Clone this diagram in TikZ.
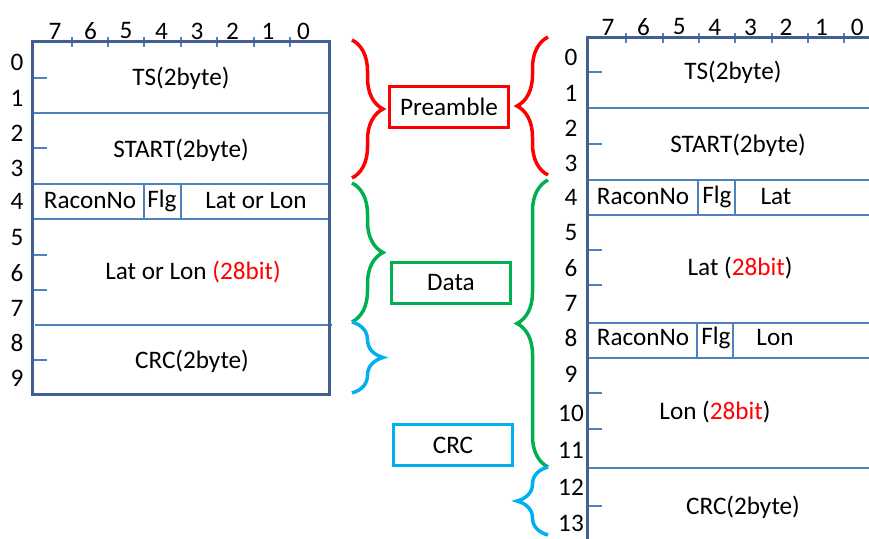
\documentclass[tikz,border=0pt]{standalone}
\usepackage{fontspec}
\setmainfont{Carlito}
\usetikzlibrary{decorations.pathreplacing}
\definecolor{frameblue}{HTML}{41608F}
\definecolor{lineblue}{HTML}{4F81BD}
\definecolor{bracered}{HTML}{FF0000}
\definecolor{bracegreen}{HTML}{00B050}
\definecolor{bracecyan}{HTML}{00B0F0}
\begin{document}
\begin{tikzpicture}[x=0.5pt,y=-0.5pt,
  every node/.style={font=\fontsize{12.6}{14}\selectfont, inner sep=0pt},
  frame/.style={draw=frameblue, line width=1.5pt},
  cellline/.style={draw=lineblue, line width=0.65pt},
  curly/.style={decorate, decoration={brace, amplitude=15.5pt}, line width=1.75pt},
  tag/.style={draw, line width=1.5pt, minimum width=59.5pt, minimum height=20.5pt}]
  \useasboundingbox (0,0) rectangle (869,539);

  % left frame
  \foreach \y in {113,184,219}
    \draw[cellline] (32,\y) -- (329,\y);
  \draw[cellline] (35,325) -- (332,325);
  \draw[cellline] (144,184) -- (144,219);
  \draw[cellline] (181,184) -- (181,219);
  \foreach \y in {78,148,255,290,360}
    \draw[cellline] (32,\y) -- ++(15,0);
  \foreach \x in {72,108,144,181,217,254,290}
    \draw[cellline] (\x,37) -- (\x,47);
  \draw[frame] (32,42) rectangle (329,395);
  \foreach \b [count=\k] in {7,6,5,4,3,2,1,0}
    \node (ltop\b) at ({19.5+35.5*\k},31) {\b};
  \foreach \r/\y in {0/62,1/98,2/133,3/168,4/201,5/238,6/273,7/308,8/343,9/378}
    \node (lrow\r) at (17,\y) {\r};
  \node (lts) at (181,78) {TS(2byte)};
  \node (lstart) at (181,150) {START(2byte)};
  \node (lracon) at (90,201) {RaconNo};
  \node (lflg) at (162,201) {Flg};
  \node (llatlon) at (256,201) {Lat or Lon};
  \node (lbits) at (193,272) {Lat or Lon \textcolor{bracered}{(28bit)}};
  \node (lcrc) at (192,361) {CRC(2byte)};

  % right frame
  \foreach \y in {108,180,215,323,358,468}
    \draw[cellline] (587,\y) -- (869,\y);
  \draw[cellline] (698,180) -- (698,215);
  \draw[cellline] (735,180) -- (735,215);
  \draw[cellline] (697,323) -- (697,358);
  \draw[cellline] (733,323) -- (733,358);
  \foreach \y in {72,144,250,285,393,429,506}
    \draw[cellline] (587,\y) -- ++(15,0);
  \foreach \x in {626,663,699,735,772,808,844}
    \draw[cellline] (\x,33) -- (\x,43);
  \draw[frame] (869,38) -- (587,38) -- (587,539);
  \foreach \b [count=\k] in {7,6,5,4,3,2,1,0}
    \node (rtop\b) at ({572.4+35.6*\k},27) {\b};
  \foreach \r/\y in {0/57,1/93,2/128,3/163,4/197,5/233,6/268,7/303,8/338,9/374,10/413,11/450,12/487,13/523}
    \node (rrow\r) at (571,\y) {\r};
  \node (rts) at (733,72) {TS(2byte)};
  \node (rstart) at (738,145) {START(2byte)};
  \node (rracon1) at (643,197) {RaconNo};
  \node (rflg1) at (717,197) {Flg};
  \node (rlat) at (776,197) {Lat};
  \node (rlatbits) at (740,268) {Lat (\textcolor{bracered}{28bit})};
  \node (rracon2) at (643,338) {RaconNo};
  \node (rflg2) at (716,338) {Flg};
  \node (rlon) at (775,338) {Lon};
  \node (rlonbits) at (715,412) {Lon (\textcolor{bracered}{28bit})};
  \node (rcrc) at (743,507) {CRC(2byte)};

  % labels
  \node[tag, draw=bracered] (preamble) at (449,107) {Preamble};
  \node[tag, draw=bracegreen] (data) at (451,283) {Data};
  \node[tag, draw=bracecyan] (crc) at (453,445) {CRC};

  % braces
  \coordinate (lpre1) at (352,40);  \coordinate (lpre2) at (352,178);
  \coordinate (ldat1) at (352,183); \coordinate (ldat2) at (352,322);
  \coordinate (lcrc1) at (352,322); \coordinate (lcrc2) at (352,393);
  \coordinate (rpre1) at (548,37);  \coordinate (rpre2) at (548,175);
  \coordinate (rdat1) at (548,180); \coordinate (rdat2) at (548,467);
  \coordinate (rcrc1) at (548,467); \coordinate (rcrc2) at (548,535);
  \draw[curly, bracered] (lpre1) -- (lpre2);
  \draw[curly, bracegreen] (ldat1) -- (ldat2);
  \draw[curly, bracecyan] (lcrc1) -- (lcrc2);
  \draw[curly, bracered] (rpre2) -- (rpre1);
  \draw[curly, bracegreen] (rdat2) -- (rdat1);
  \draw[curly, bracecyan] (rcrc2) -- (rcrc1);
\end{tikzpicture}
\end{document}
